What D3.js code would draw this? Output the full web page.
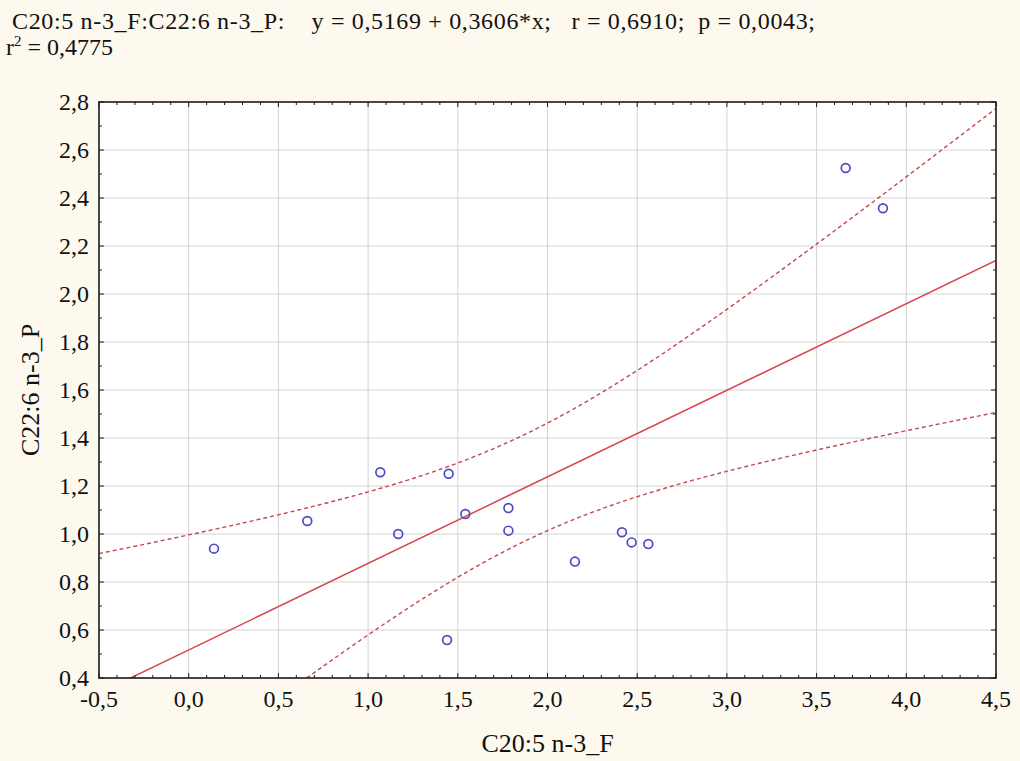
<!DOCTYPE html>
<html>
<head>
<meta charset="utf-8">
<script src="https://cdn.jsdelivr.net/npm/d3@7"></script>
<style>
  html, body { margin: 0; padding: 0; background: #fdf9ee; }
  svg { display: block; }
  text { font-family: "Liberation Serif", "Times New Roman", serif; fill: #111; }
</style>
</head>
<body>
<svg id="chart" width="1020" height="761"></svg>
<script>
// C20:5 n-3 (F) versus C22:6 n-3 (P), one point per subject
const xValues = [0.141, 0.661, 1.068, 1.168, 1.449, 1.440, 1.542, 1.782, 1.782, 2.153, 2.415, 2.469, 2.562, 3.662, 3.870];
const yValues = [0.939, 1.054, 1.257, 1.000, 1.251, 0.558, 1.083, 1.108, 1.014, 0.885, 1.007, 0.965, 0.958, 2.525, 2.357];

// Fitted line y = a + b*x
const intercept = 0.5169;
const slope = 0.3606;

const xTicks = [-0.5, 0.0, 0.5, 1.0, 1.5, 2.0, 2.5, 3.0, 3.5, 4.0, 4.5];
const yTicks = [0.4, 0.6, 0.8, 1.0, 1.2, 1.4, 1.6, 1.8, 2.0, 2.2, 2.4, 2.6, 2.8];

const titleLine1 = "C20:5 n-3_F:C22:6 n-3_P:    y = 0,5169 + 0,3606*x;   r = 0,6910;  p = 0,0043;";
const xLabel = "C20:5 n-3_F";
const yLabel = "C22:6 n-3_P";

const svg = d3.select("#chart");
const W = 1020, H = 761;
const m = { left: 99, right: 996, top: 102, bottom: 678 };
const FS = 24;

svg.append("rect").attr("width", W).attr("height", H).attr("fill", "#fdf9ee");

const x = d3.scaleLinear().domain([-0.5, 4.5]).range([m.left, m.right]);
const y = d3.scaleLinear().domain([0.4, 2.8]).range([m.bottom, m.top]);
const fmt = v => d3.format(".1f")(v).replace("−", "-").replace(".", ",");

// plot background
svg.append("rect")
  .attr("x", m.left).attr("y", m.top)
  .attr("width", m.right - m.left).attr("height", m.bottom - m.top)
  .attr("fill", "#ffffff");

// grid
const grid = svg.append("g").attr("stroke", "#d3d3d3").attr("stroke-width", 1);
grid.selectAll("line.gx").data(xTicks.slice(1, -1)).join("line")
  .attr("x1", d => x(d)).attr("x2", d => x(d))
  .attr("y1", m.top).attr("y2", m.bottom);
grid.selectAll("line.gy").data(yTicks.slice(1, -1)).join("line")
  .attr("y1", d => y(d)).attr("y2", d => y(d))
  .attr("x1", m.left).attr("x2", m.right);

// 95% confidence band of the fitted line
const n = xValues.length;
const xbar = d3.mean(xValues);
const sxx = d3.sum(xValues, v => (v - xbar) ** 2);
const sse = d3.sum(xValues, (v, i) => (yValues[i] - (intercept + slope * v)) ** 2);
const se = Math.sqrt(sse / (n - 2));
const tCrit = 2.1604; // t(0.975, 13)
const bandX = d3.range(0, 401).map(i => -0.5 + i * 5 / 400);
const half = v => tCrit * se * Math.sqrt(1 / n + (v - xbar) ** 2 / sxx);

svg.append("clipPath").attr("id", "plotclip")
  .append("rect").attr("x", m.left).attr("y", m.top)
  .attr("width", m.right - m.left).attr("height", m.bottom - m.top);

const plot = svg.append("g").attr("clip-path", "url(#plotclip)");
const lineGen = d3.line().x(d => x(d[0])).y(d => y(d[1]));

[1, -1].forEach(sgn => {
  plot.append("path")
    .datum(bandX.map(v => [v, intercept + slope * v + sgn * half(v)]))
    .attr("d", lineGen)
    .attr("fill", "none")
    .attr("stroke", "#c24a4f")
    .attr("stroke-width", 1.4)
    .attr("stroke-dasharray", "4,3");
});

plot.append("path")
  .datum([[-0.5, intercept - 0.5 * slope], [4.5, intercept + 4.5 * slope]])
  .attr("d", lineGen)
  .attr("fill", "none")
  .attr("stroke", "#d8464b")
  .attr("stroke-width", 1.5);

// points
plot.selectAll("circle").data(xValues).join("circle")
  .attr("cx", d => x(d))
  .attr("cy", (d, i) => y(yValues[i]))
  .attr("r", 4.4)
  .attr("fill", "none")
  .attr("stroke", "#4b4bc4")
  .attr("stroke-width", 1.7);

// frame
svg.append("rect")
  .attr("x", m.left).attr("y", m.top)
  .attr("width", m.right - m.left).attr("height", m.bottom - m.top)
  .attr("fill", "none").attr("stroke", "#1a1a1a").attr("stroke-width", 1.6);

// inward ticks on all four sides
const tickG = svg.append("g").attr("stroke", "#1a1a1a").attr("stroke-width", 1);
const xMinor = d3.range(-0.5, 4.5001, 0.1).map(v => +v.toFixed(2));
const yMinor = d3.range(0.4, 2.8001, 0.1).map(v => +v.toFixed(2));
const isMajorX = v => xTicks.some(t => Math.abs(t - v) < 1e-6);
const isMajorY = v => yTicks.some(t => Math.abs(t - v) < 1e-6);
xMinor.forEach(v => {
  const L = isMajorX(v) ? 5 : 3;
  tickG.append("line").attr("x1", x(v)).attr("x2", x(v)).attr("y1", m.bottom).attr("y2", m.bottom - L);
  tickG.append("line").attr("x1", x(v)).attr("x2", x(v)).attr("y1", m.top).attr("y2", m.top + L);
});
yMinor.forEach(v => {
  const L = isMajorY(v) ? 5 : 3;
  tickG.append("line").attr("y1", y(v)).attr("y2", y(v)).attr("x1", m.left).attr("x2", m.left + L);
  tickG.append("line").attr("y1", y(v)).attr("y2", y(v)).attr("x1", m.right).attr("x2", m.right - L);
});

// tick labels
svg.append("g").selectAll("text").data(xTicks).join("text")
  .attr("x", d => x(d)).attr("y", 707)
  .attr("text-anchor", "middle").attr("font-size", FS)
  .text(fmt);
svg.append("g").selectAll("text").data(yTicks).join("text")
  .attr("x", 89).attr("y", d => y(d) + 8)
  .attr("text-anchor", "end").attr("font-size", FS)
  .text(fmt);

// axis titles
svg.append("text")
  .attr("x", (m.left + m.right) / 2).attr("y", 752)
  .attr("text-anchor", "middle").attr("font-size", 26)
  .text(xLabel);
svg.append("text")
  .attr("transform", `translate(39, ${(m.top + m.bottom) / 2}) rotate(-90)`)
  .attr("text-anchor", "middle").attr("font-size", 26)
  .text(yLabel);

// header
svg.append("text").attr("x", 12).attr("y", 29).attr("font-size", FS)
  .attr("xml:space", "preserve").style("white-space", "pre")
  .attr("textLength", 803).attr("lengthAdjust", "spacing")
  .text(titleLine1);
const t2 = svg.append("text").attr("x", 6).attr("y", 55).attr("font-size", FS);
t2.append("tspan").text("r");
t2.append("tspan").attr("dy", -9).attr("font-size", 15).text("2");
t2.append("tspan").attr("dy", 9).text(" = 0,4775");
</script>
</body>
</html>
